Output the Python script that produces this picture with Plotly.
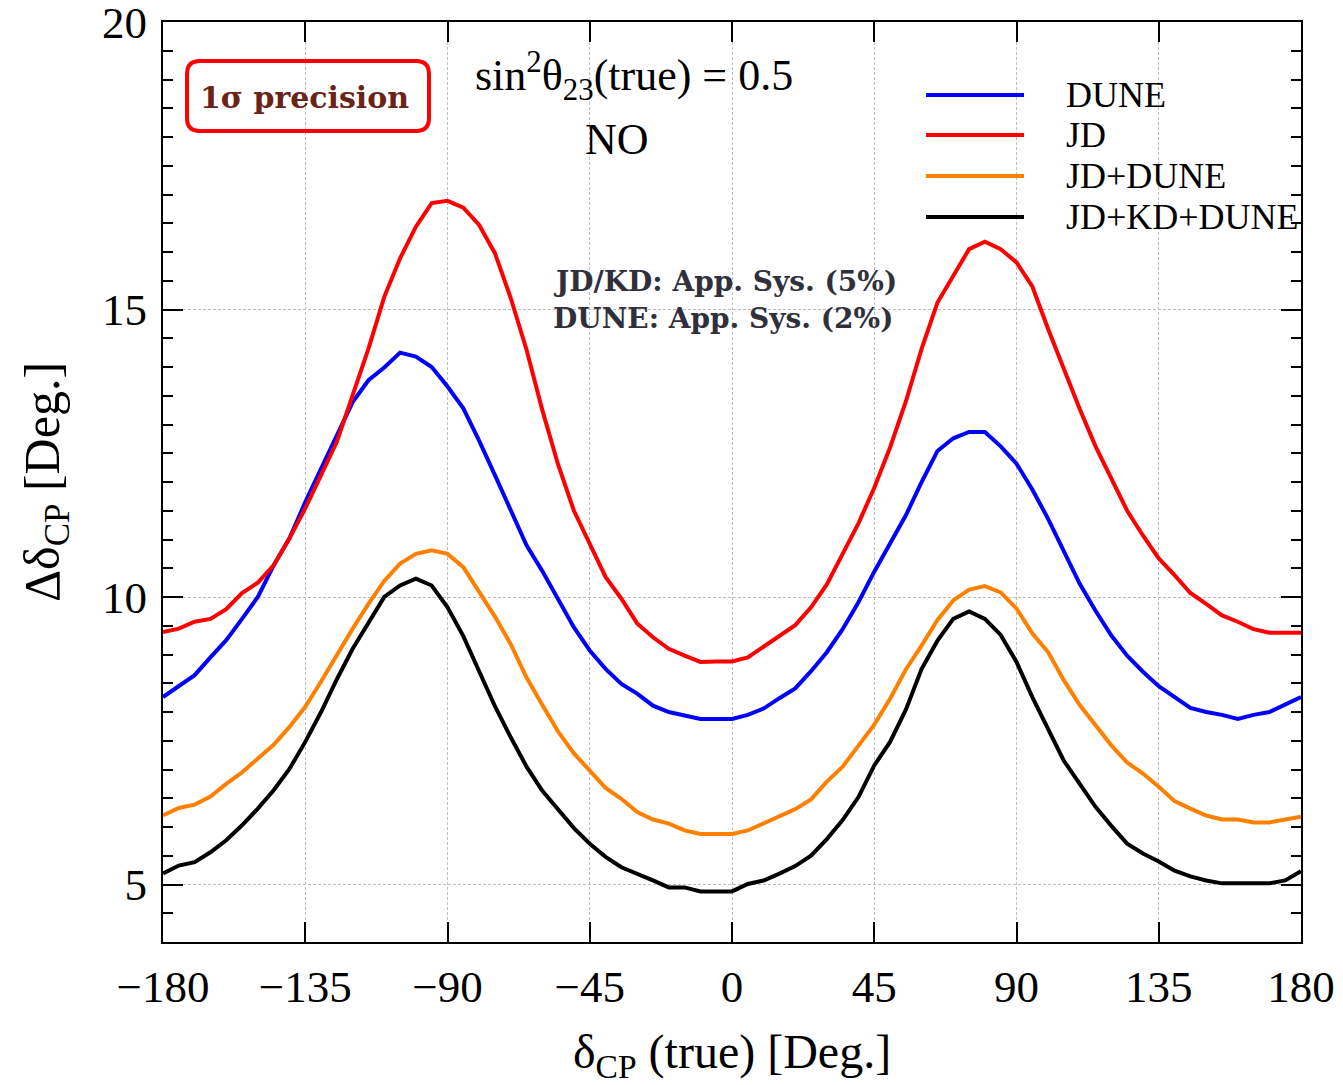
import plotly.graph_objects as go

# ---------------- data ----------------
delta_cp = list(range(-180, 185, 5))

dune = [8.26, 8.45, 8.64, 8.95, 9.25, 9.62, 10.0, 10.55, 11.02, 11.65,
        12.23, 12.82, 13.39, 13.77, 13.99, 14.25, 14.18, 14.0, 13.66, 13.28,
        12.72, 12.12, 11.5, 10.9, 10.45, 9.95, 9.47, 9.07, 8.75, 8.49,
        8.32, 8.11, 8.0, 7.94, 7.88, 7.88, 7.88, 7.95, 8.06, 8.24,
        8.41, 8.71, 9.04, 9.44, 9.91, 10.44, 10.93, 11.42, 12.0, 12.54,
        12.76, 12.87, 12.87, 12.62, 12.32, 11.87, 11.36, 10.80, 10.23, 9.76,
        9.33, 8.98, 8.70, 8.45, 8.26, 8.07, 8.0, 7.95, 7.88, 7.95,
        8.0, 8.13, 8.26]

jd = [9.39, 9.45, 9.57, 9.62, 9.79, 10.07, 10.25, 10.55, 11.02, 11.54,
      12.12, 12.70, 13.51, 14.32, 15.22, 15.89, 16.44, 16.85, 16.89, 16.77,
      16.47, 15.98, 15.2, 14.3, 13.25, 12.3, 11.5, 10.92, 10.35, 9.97,
      9.54, 9.30, 9.10, 8.98, 8.87, 8.88, 8.88, 8.95, 9.13, 9.33,
      9.51, 9.82, 10.22, 10.75, 11.28, 11.9, 12.6, 13.4, 14.32, 15.12,
      15.6, 16.05, 16.18, 16.05, 15.82, 15.4, 14.66, 13.95, 13.27, 12.62,
      12.06, 11.5, 11.07, 10.67, 10.38, 10.07, 9.88, 9.68, 9.57, 9.44,
      9.38, 9.38, 9.38]

jd_dune = [6.20, 6.33, 6.39, 6.53, 6.75, 6.95, 7.19, 7.43, 7.74, 8.09,
           8.53, 9.0, 9.45, 9.88, 10.28, 10.58, 10.75, 10.81, 10.75, 10.52,
           10.1, 9.66, 9.18, 8.6, 8.12, 7.66, 7.28, 6.98, 6.68, 6.49,
           6.26, 6.13, 6.06, 5.94, 5.88, 5.88, 5.88, 5.94, 6.06, 6.19,
           6.31, 6.48, 6.79, 7.05, 7.42, 7.78, 8.23, 8.74, 9.16, 9.6,
           9.94, 10.13, 10.19, 10.08, 9.80, 9.37, 9.04, 8.55, 8.12, 7.76,
           7.42, 7.12, 6.93, 6.70, 6.45, 6.32, 6.20, 6.13, 6.13, 6.08,
           6.08, 6.13, 6.18]

jd_kd_dune = [5.19, 5.33, 5.39, 5.56, 5.77, 6.03, 6.32, 6.64, 7.01, 7.48,
              8.0, 8.57, 9.10, 9.56, 10.0, 10.20, 10.32, 10.20, 9.82, 9.32,
              8.71, 8.1, 7.56, 7.05, 6.63, 6.3, 5.98, 5.71, 5.48, 5.30,
              5.19, 5.07, 4.95, 4.95, 4.88, 4.88, 4.88, 5.01, 5.07, 5.19,
              5.32, 5.50, 5.79, 6.12, 6.52, 7.07, 7.48, 8.04, 8.75, 9.24,
              9.62, 9.75, 9.62, 9.34, 8.87, 8.26, 7.71, 7.15, 6.75, 6.35,
              6.02, 5.71, 5.54, 5.40, 5.24, 5.14, 5.07, 5.02, 5.02, 5.02,
              5.02, 5.07, 5.23]

series_names = ["DUNE", "JD", "JD+DUNE", "JD+KD+DUNE"]
series_values = [dune, jd, jd_dune, jd_kd_dune]
series_colors = ["#0000ff", "#ff0000", "#ff8000", "#000000"]

x_ticks = [-180, -135, -90, -45, 0, 45, 90, 135, 180]
y_ticks = [5, 10, 15, 20]

# ---------------- layout geometry ----------------
W, H = 1343, 1085
L, R, T, B = 163, 42, 22, 143
PW, PH = W - L - R, H - T - B

def px_x(p):
    return (p - L) / PW

def px_y(p):
    return (H - B - p) / PH

SERIF = "Liberation Serif"

fig = go.Figure()
for name, vals, col in zip(series_names, series_values, series_colors):
    fig.add_trace(go.Scatter(x=delta_cp, y=vals, mode="lines", name=name,
                             line=dict(color=col, width=4), showlegend=False))

axis_common = dict(
    showline=True, linecolor="black", linewidth=2, mirror="allticks",
    ticks="inside", ticklen=20, tickwidth=2, tickcolor="black",
    showgrid=True, gridcolor="#bdbdbd", gridwidth=1, griddash="3px,2px",
    zeroline=False, ticklabeloverflow="allow", automargin=False,
    tickfont=dict(family=SERIF, size=45, color="black"),
)

fig.update_xaxes(range=[-180, 180], tickvals=x_ticks, ticklabelstandoff=4,
                 title=dict(text="δ<sub>CP</sub> (true) [Deg.]",
                            font=dict(family=SERIF, size=48, color="black"),
                            standoff=36),
                 **axis_common)
fig.update_yaxes(range=[4, 20], tickvals=y_ticks, ticklabelstandoff=5,
                 minor=dict(dtick=0.5, ticks="inside", ticklen=10, tickwidth=2,
                            tickcolor="black", showgrid=False),
                 title=dict(text="Δδ<sub>CP</sub> [Deg.]",
                            font=dict(family=SERIF, size=50, color="black"),
                            standoff=27),
                 **axis_common)

# rounded box around "1σ precision"
bx0, bx1, by0, by1, rr = 187, 429, 61, 131, 13
def P(px, py):
    return f"{px_x(px):.5f},{px_y(py):.5f}"
path = (f"M {P(bx0 + rr, by0)} L {P(bx1 - rr, by0)} Q {P(bx1, by0)} {P(bx1, by0 + rr)} "
        f"L {P(bx1, by1 - rr)} Q {P(bx1, by1)} {P(bx1 - rr, by1)} "
        f"L {P(bx0 + rr, by1)} Q {P(bx0, by1)} {P(bx0, by1 - rr)} "
        f"L {P(bx0, by0 + rr)} Q {P(bx0, by0)} {P(bx0 + rr, by0)} Z")
fig.add_shape(type="path", path=path, xref="paper", yref="paper",
              line=dict(color="#ff0000", width=4), fillcolor="rgba(0,0,0,0)")

ann = []
ann.append(dict(x=px_x(304), y=px_y(97), text="<b>1σ precision</b>", showarrow=False,
                xanchor="center", yanchor="middle",
                font=dict(family="DejaVu Serif", size=30, color="#6b2318")))
ann.append(dict(x=px_x(634), y=px_y(76), text="sin<sup>2</sup>θ<sub>23</sub>(true) = 0.5",
                showarrow=False, xanchor="center", yanchor="middle",
                font=dict(family=SERIF, size=44, color="black")))
ann.append(dict(x=px_x(617), y=px_y(139), text="NO", showarrow=False,
                xanchor="center", yanchor="middle",
                font=dict(family=SERIF, size=44, color="black")))
ann.append(dict(x=px_x(551), y=px_y(281), text="<b>JD/KD: App. Sys. (5%)</b>", showarrow=False,
                xanchor="left", yanchor="middle",
                font=dict(family="DejaVu Serif", size=28, color="#30303c")))
ann.append(dict(x=px_x(551), y=px_y(318), text="<b>DUNE: App. Sys. (2%)</b>", showarrow=False,
                xanchor="left", yanchor="middle",
                font=dict(family="DejaVu Serif", size=28, color="#30303c")))

# manual legend
leg_y = [95, 135, 176, 217]
for name, col, ly in zip(series_names, series_colors, leg_y):
    fig.add_shape(type="line", xref="paper", yref="paper",
                  x0=px_x(926), x1=px_x(1024), y0=px_y(ly), y1=px_y(ly),
                  line=dict(color=col, width=4))
    ann.append(dict(x=px_x(1064), y=px_y(ly), text=name, showarrow=False,
                    xanchor="left", yanchor="middle",
                    font=dict(family=SERIF, size=36, color="black")))

for a in ann:
    a.setdefault("xref", "paper")
    a.setdefault("yref", "paper")

fig.update_layout(
    width=W, height=H,
    margin=dict(l=L, r=R, t=T, b=B, autoexpand=False),
    plot_bgcolor="white", paper_bgcolor="white",
    annotations=ann,
)

fig.write_html("out.html")
